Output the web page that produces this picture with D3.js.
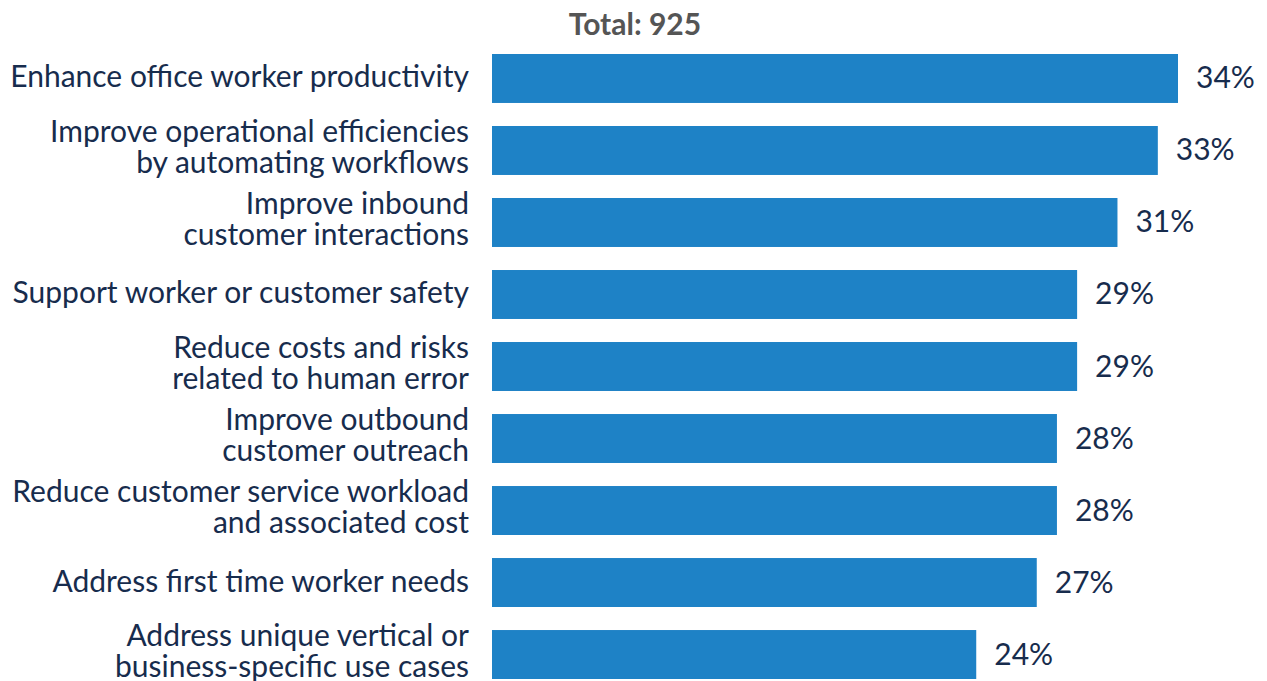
<!DOCTYPE html>
<html>
<head>
<meta charset="utf-8">
<script src="https://cdn.jsdelivr.net/npm/d3@7"></script>
<style>
  html, body { margin: 0; padding: 0; background: #ffffff; }
  svg { display: block; }
</style>
</head>
<body>
<svg id="chart" width="1267" height="681"></svg>
<script>
const title = "Total: 925";
const categories = [
  ["Enhance office worker productivity"],
  ["Improve operational efficiencies", "by automating workflows"],
  ["Improve inbound", "customer interactions"],
  ["Support worker or customer safety"],
  ["Reduce costs and risks", "related to human error"],
  ["Improve outbound", "customer outreach"],
  ["Reduce customer service workload", "and associated cost"],
  ["Address first time worker needs"],
  ["Address unique vertical or", "business-specific use cases"]
];
const values = [34, 33, 31, 29, 29, 28, 28, 27, 24];

const W = 1267, H = 681;
const font = "Lato, 'Noto Sans', sans-serif";
const textColor = "#172c4d";
const barColor = "#1e82c6";

const svg = d3.select("#chart");
const ids = d3.range(categories.length);

const x = d3.scaleLinear().domain([0, 34]).range([492, 1178]);
const y = d3.scaleBand().domain(ids).range([54, 679]).paddingInner(0.32).paddingOuter(0);

svg.append("text")
  .attr("x", 635).attr("y", 35)
  .attr("text-anchor", "middle")
  .attr("font-family", font)
  .attr("font-weight", 700)
  .attr("font-size", 30)
  .attr("fill", "#555555")
  .text(title);

svg.append("g").selectAll("rect").data(ids).join("rect")
  .attr("x", x(0))
  .attr("y", i => y(i))
  .attr("width", i => x(values[i]) - x(0))
  .attr("height", y.bandwidth())
  .attr("fill", barColor);

const lab = svg.append("g").selectAll("text").data(ids).join("text")
  .attr("text-anchor", "end")
  .attr("font-family", font)
  .attr("font-size", 30)
  .attr("fill", textColor);
lab.each(function(i) {
  const lines = categories[i];
  const n = lines.length;
  const c = y(i) + y.bandwidth() / 2;
  d3.select(this).selectAll("tspan").data(lines).join("tspan")
    .attr("x", 469)
    .attr("y", (d, k) => c + 9 - 2 * (n - 1) + (k - (n - 1) / 2) * 31)
    .text(d => d);
});

svg.append("g").selectAll("text").data(ids).join("text")
  .attr("x", i => x(values[i]) + 18)
  .attr("y", i => y(i) + y.bandwidth() / 2 + 10)
  .attr("font-family", font)
  .attr("font-size", 30)
  .attr("fill", textColor)
  .text(i => values[i] + "%");
</script>
</body>
</html>
